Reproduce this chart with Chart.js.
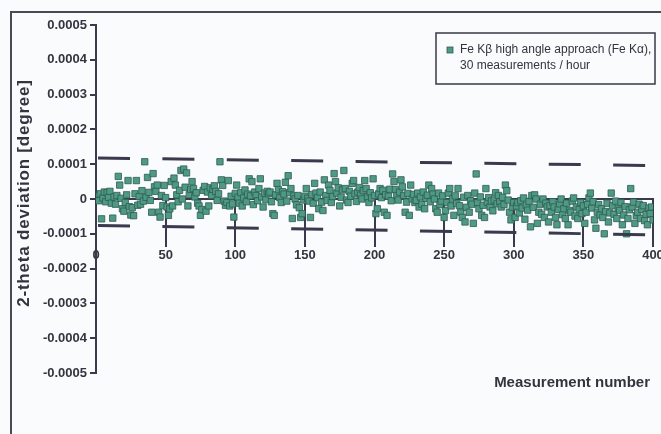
<!DOCTYPE html>
<html>
<head>
<meta charset="utf-8">
<script src="https://cdn.jsdelivr.net/npm/chart.js@4.4.1/dist/chart.umd.min.js"></script>
<style>
html,body{margin:0;padding:0;background:#f9fbfc;}
#wrap{width:661px;height:434px;position:relative;}
canvas{display:block;}
</style>
</head>
<body>
<div id="wrap"><canvas id="c" width="661" height="434"></canvas></div>
<script>
const deviationE5 = [
  0.8,-0.5,1.5,-5.7,0.3,2.0,-0.8,1.8,0.5,2.2,-1.2,-5.5,0.6,-1.5,1.0,6.5,4.0,0.2,-2.8,-3.5,-1.0,1.2,5.3,-2.2,-4.6,
  -2.5,-4.8,1.5,5.3,-1.8,0.7,-1.5,2.4,-0.6,10.7,0.5,6.2,1.9,-0.4,-3.8,7.3,3.5,2.2,4.0,-3.8,-5.2,1.0,-1.9,3.9,0.4,
  -2.3,-4.7,-2.8,5.0,-2.0,6.0,4.0,1.2,-0.8,2.5,8.2,0.0,8.6,3.4,7.5,-2.0,1.3,2.8,5.0,3.0,0.6,1.8,-1.2,-2.0,-4.7,
  -3.0,2.5,3.6,-3.5,2.0,-2.0,3.2,1.0,2.8,3.8,2.2,-0.4,1.5,10.7,5.5,3.9,-0.6,-1.8,-1.0,5.3,-2.0,0.8,-1.4,-5.2,1.6,
  4.0,0.5,-1.2,1.8,-2.0,0.3,2.6,-0.8,1.4,5.8,0.9,5.0,-1.6,2.0,1.0,-0.5,3.0,5.8,0.6,-2.3,1.7,-0.2,2.2,1.5,2.0,
  -0.8,-4.2,-4.7,1.2,4.5,2.7,0.4,-1.0,2.1,1.4,4.8,-0.6,6.7,1.8,3.0,-5.6,0.9,0.0,-1.7,1.0,-2.5,-5.3,-4.2,-0.3,0.8,
  3.0,0.2,-0.6,-5.3,1.3,-1.2,4.5,1.7,0.4,-2.8,2.0,-0.9,-3.3,5.5,1.0,-0.4,4.0,2.5,-1.0,0.7,7.3,5.0,1.7,3.2,-2.0,
  0.5,2.6,8.2,3.0,-0.3,-1.0,2.2,0.8,4.5,5.3,1.5,-0.7,2.0,3.3,1.1,0.0,2.4,5.3,3.0,0.6,-1.0,1.8,0.3,5.8,1.0,
  -4.2,-2.8,1.5,3.0,0.4,2.5,-3.8,1.2,-4.7,0.8,2.8,-0.5,7.2,5.0,2.7,1.0,-0.3,2.0,5.5,3.5,1.0,-3.8,-0.9,1.6,-4.7,
  4.0,0.0,1.3,-1.0,-0.4,1.7,-2.3,0.6,-1.5,2.0,-2.8,0.2,1.1,4.0,-0.8,3.0,1.4,0.0,-2.8,-3.8,1.7,-1.6,-0.6,0.9,-5.3,
  -3.3,-1.0,1.7,3.0,-2.0,0.0,-4.7,0.9,-1.3,3.0,-1.9,-3.8,-5.3,0.5,-6.6,-2.4,1.0,-3.8,-0.5,-1.5,-7.0,1.7,7.2,-1.0,-2.8,
  0.6,-4.7,-1.8,-5.3,3.0,-0.9,0.4,-2.3,-0.6,-3.4,-0.3,1.8,-1.4,1.0,-0.8,-2.3,0.5,-1.6,4.0,2.4,-0.3,-3.8,-6.0,-2.3,-1.0,
  -5.3,-2.0,-1.0,-4.0,-0.5,-2.6,0.3,-5.8,-1.8,-3.2,-0.7,-8.0,1.0,-2.4,1.2,0.0,-7.0,-3.8,-1.5,-4.4,0.0,-5.3,-1.2,-2.3,-6.6,
  -1.9,-3.8,-0.8,-2.3,-5.3,-7.4,-3.0,-1.4,0.0,-4.5,-2.8,-5.6,-1.2,-7.4,-3.3,-3.8,-0.6,0.3,-4.9,-2.3,-5.6,-3.0,-1.0,-4.2,-2.0,
  -7.0,-3.8,-1.5,0.3,1.7,-2.6,-0.8,-6.0,-8.4,-3.8,-1.6,-4.6,-2.8,-5.3,-10.0,-3.6,-1.2,-6.6,-4.0,1.7,-1.9,-4.4,-0.6,-5.6,-2.7,
  -3.3,-1.0,-7.4,-4.6,-2.2,-10.0,-5.6,-3.1,3.0,-2.3,-0.9,-7.0,-4.8,-3.8,-1.5,-5.6,-3.0,-1.9,-6.2,-4.4,-7.4,-2.6,-4.2,-2.3,-6.0
];
const unitE5 = 1e-5;

// dashed limit lines (start / end), units of 1e-5 degree
const limitX = [0, 400];
const upperLimitE5 = [11.8, 9.6];
const lowerLimitE5 = [-7.6, -10.3];

const xTickValues = [0, 50, 100, 150, 200, 250, 300, 350, 400];
const yTickValues = [-0.0005, -0.0004, -0.0003, -0.0002, -0.0001, 0, 0.0001, 0.0002, 0.0003, 0.0004, 0.0005];
const yTickLabels = ["-0.0005", "-0.0004", "-0.0003", "-0.0002", "-0.0001", "0", "0.0001", "0.0002", "0.0003", "0.0004", "0.0005"];

const seriesLabel = ["Fe K\u03b2 high angle approach (Fe K\u03b1),", "30 measurements / hour"];
const xTitle = "Measurement number";
const yTitle = "2-theta deviation [degree]";

const FONT = '"Liberation Sans", Arial, Helvetica, sans-serif';
const TEXT = '#34343f';
const AXIS = '#3a3a4e';
const PT_FILL = '#4f9a84';
const PT_EDGE = '#2f5c52';

const points = deviationE5.map((v, i) => ({x: i + 1, y: v * unitE5}));
const upper = limitX.map((x, i) => ({x: x, y: upperLimitE5[i] * unitE5}));
const lower = limitX.map((x, i) => ({x: x, y: lowerLimitE5[i] * unitE5}));

const decor = {
  id: 'decor',
  beforeDraw(chart) {
    const ctx = chart.ctx;
    ctx.save();
    ctx.fillStyle = '#f9fbfc';
    ctx.fillRect(0, 0, chart.width, chart.height);
    ctx.restore();
  },
  afterDraw(chart) {
    const ctx = chart.ctx;
    ctx.save();
    // outer frame (top + left)
    ctx.strokeStyle = '#4a4a55';
    ctx.lineWidth = 2;
    ctx.beginPath();
    ctx.moveTo(661, 12);
    ctx.lineTo(11, 12);
    ctx.lineTo(11, 434);
    ctx.stroke();

    // y title
    ctx.fillStyle = TEXT;
    ctx.save();
    ctx.translate(24, 193);
    ctx.rotate(-Math.PI / 2);
    ctx.font = 'bold 17px ' + FONT;
    try { ctx.letterSpacing = '0.8px'; } catch (e) {}
    ctx.textAlign = 'center';
    ctx.textBaseline = 'middle';
    ctx.fillText(yTitle, 0, 0);
    ctx.restore();

    // x title
    ctx.font = 'bold 15px ' + FONT;
    ctx.textAlign = 'right';
    ctx.textBaseline = 'middle';
    ctx.fillText(xTitle, 650, 383);

    // legend
    ctx.strokeStyle = '#3a3a48';
    ctx.lineWidth = 1.5;
    ctx.strokeRect(436, 33, 219, 51);
    ctx.fillStyle = PT_FILL;
    ctx.fillRect(447, 47, 6, 6);
    ctx.strokeStyle = PT_EDGE;
    ctx.lineWidth = 0.8;
    ctx.strokeRect(447, 47, 6, 6);
    ctx.fillStyle = TEXT;
    ctx.font = '12px ' + FONT;
    ctx.textAlign = 'left';
    ctx.fillText(seriesLabel[0], 460, 50);
    ctx.fillText(seriesLabel[1], 460, 66);
    ctx.restore();
  }
};

new Chart(document.getElementById('c'), {
  type: 'scatter',
  data: {
    datasets: [
      {
        data: points,
        pointStyle: 'rect',
        pointRadius: 4.5,
        backgroundColor: PT_FILL,
        borderColor: PT_EDGE,
        borderWidth: 0.8,
        showLine: false,
        order: 2
      },
      {
        data: upper,
        showLine: true,
        pointRadius: 0,
        borderColor: AXIS,
        borderWidth: 3,
        borderDash: [32, 32.4],
        borderDashOffset: -2,
        order: 1
      },
      {
        data: lower,
        showLine: true,
        pointRadius: 0,
        borderColor: AXIS,
        borderWidth: 3,
        borderDash: [32, 32.4],
        borderDashOffset: -2,
        order: 1
      }
    ]
  },
  options: {
    responsive: false,
    animation: false,
    devicePixelRatio: 1,
    layout: {padding: {left: 0, top: 25, right: 8, bottom: 61}},
    plugins: {legend: {display: false}, tooltip: {enabled: false}},
    scales: {
      x: {
        type: 'linear',
        min: 0,
        max: 400,
        position: {y: 0},
        afterBuildTicks: s => { s.ticks = xTickValues.map(v => ({value: v})); },
        afterFit: s => { s.paddingLeft = 0; s.paddingRight = 0; },
        ticks: {
          font: {family: FONT, size: 13, weight: 'bold'},
          color: TEXT,
          padding: 2,
          maxRotation: 0,
          autoSkip: false
        },
        grid: {drawOnChartArea: false, drawTicks: true, tickLength: 47, color: AXIS, lineWidth: 2},
        border: {display: true, color: AXIS, width: 2}
      },
      y: {
        type: 'linear',
        min: -0.0005,
        max: 0.0005,
        position: 'left',
        afterBuildTicks: s => { s.ticks = yTickValues.map(v => ({value: v})); },
        afterFit: s => { s.width = 96; s.paddingTop = 0; s.paddingBottom = 0; },
        ticks: {
          font: {family: FONT, size: 13, weight: 'bold'},
          color: TEXT,
          padding: 3,
          callback: (v, i) => yTickLabels[i]
        },
        grid: {drawOnChartArea: false, drawTicks: true, tickLength: 6, color: AXIS, lineWidth: 2},
        border: {display: true, color: AXIS, width: 2}
      }
    }
  },
  plugins: [decor]
});
</script>
</body>
</html>
